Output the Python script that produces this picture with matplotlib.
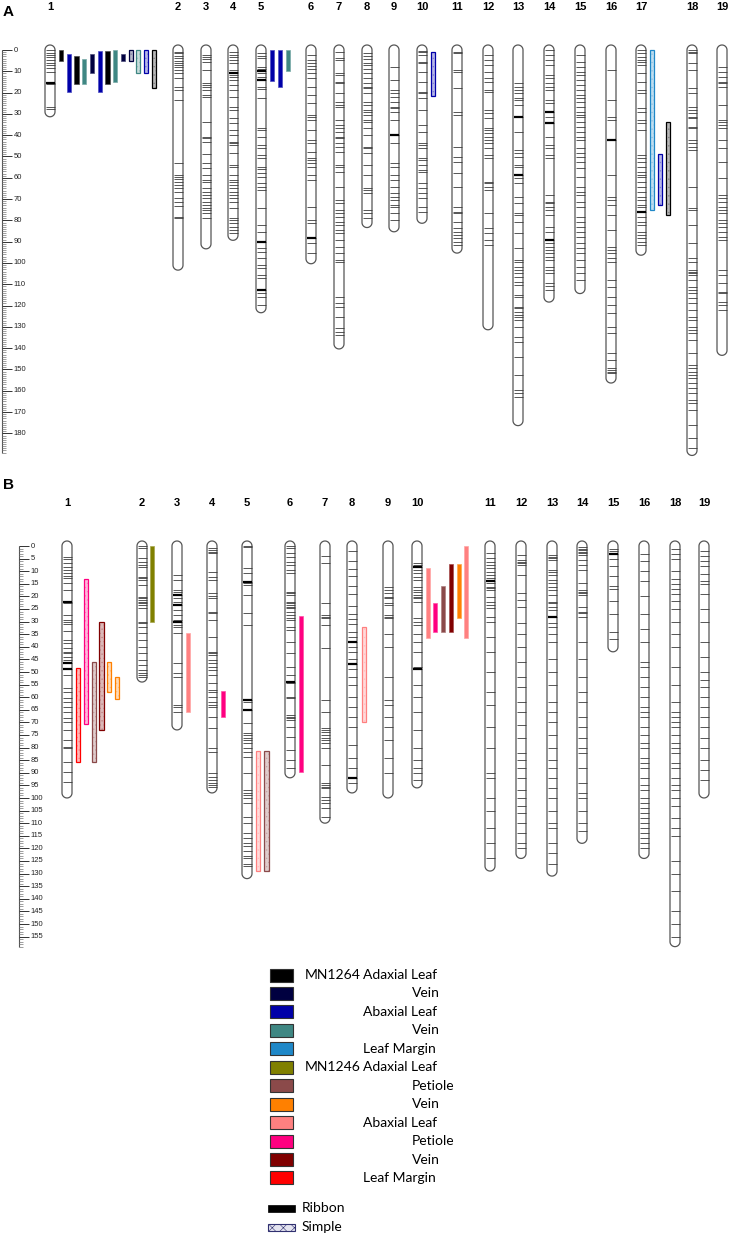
import numpy as np
import matplotlib
matplotlib.use("Agg")
import matplotlib.pyplot as plt
from matplotlib.patches import Polygon, Rectangle
from matplotlib.colors import to_rgb

plt.rcParams['hatch.linewidth'] = 0.4

# ---------------- traits (legend) ----------------
trait_group = ['MN1264', '', '', '', '', 'MN1246', '', '', '', '', '', '']
trait_tissue = ['Adaxial Leaf', '', 'Abaxial Leaf', '', 'Leaf Margin',
                'Adaxial Leaf', '', '', 'Abaxial Leaf', '', '', 'Leaf Margin']
trait_sub = ['', 'Vein', '', 'Vein', '', '', 'Petiole', 'Vein', '', 'Petiole', 'Vein', '']
trait_colors = ['#000000', '#000040', '#0000a8', '#3f8783', '#1f88c8',
                '#808000', '#8b4a4a', '#ff8000', '#ff8080', '#ff0080', '#800000', '#ff0000']

# ---------------- panel A: chromosomes ----------------
chroms_a = ['1', '2', '3', '4', '5', '6', '7', '8', '9', '10',
            '11', '12', '13', '14', '15', '16', '17', '18', '19']
lengths_a = [29, 101, 91, 87, 121, 98, 138, 81, 83, 79, 93, 129, 174, 116, 112, 154, 94, 188, 141]

a01 = [0, 1.3, 2.3, 3.4, 4.7, 6, 7, 8.6, 10.2, 15.3, 15.9, 26.9, 27.9]
a02 = [0.8, 1.6, 2.8, 3.9, 5, 6.3, 7, 7.8, 9.4, 10.9, 13.3, 17.5, 18.8, 23.5, 53.2, 58.7, 59.5, 60.7,
       61.8, 63.4, 65, 66.5, 69.6, 71.2, 73.2, 78.2, 79]
a03 = [2.3, 3.1, 4.4, 5.5, 9.4, 15.6, 16.4, 17.5, 18.8, 21.1, 21.9, 33.6, 40.7, 41.5, 43, 49, 53.2, 55.6,
       58.7, 61, 61.8, 65, 66.5, 68.1, 69.6, 71.2, 72.8, 74.3, 75.1, 76.7, 79]
a04 = [0.8, 2.3, 3.4, 4.7, 6.3, 9.4, 10.2, 10.9, 11.7, 12.5, 14.1, 16.4, 18.8, 21.9, 26.6, 28.2, 32.1,
       34.4, 37.6, 39.9, 43, 43.8, 44.6, 48.5, 54, 54.8, 58.7, 61, 61.8, 63.4, 65, 66.5, 68.1, 69.6,
       71.2, 74.3, 79, 79.8, 81.4, 82.9, 84.5, 86.1]
a05 = [1.6, 2.7, 3.9, 7.8, 9.1, 9.9, 10.9, 12.8, 14.1, 17.2, 18.5, 22.7, 36.8, 37.6, 40.7, 44.6, 46.2,
       49.3, 50.9, 54.8, 56, 57.9, 59.8, 62.6, 64.2, 65.7, 74.3, 82.2, 85.3, 90, 93.1, 94.7, 97.8,
       100.9, 102.5, 105.6, 107.2, 112.7, 114.2, 115.8, 119.7]
a06 = [2.3, 4.7, 6, 7.5, 9.1, 11, 13.3, 17.2, 21.1, 25, 30.5, 31.6, 32.9, 37.6, 42.3, 43.8, 47.7, 50.9,
       51.6, 53.2, 54.8, 58.7, 61, 73.5, 79.8, 81, 88.4, 90.8, 95.5]
a07 = [0.8, 3.9, 4.7, 11, 11.7, 14.9, 15.6, 20.3, 24.2, 25.8, 26.6, 32.9, 35.2, 36.8, 38.3, 40.7, 41.5,
       43.8, 45.4, 47.7, 54, 54.8, 57.1, 64.2, 70.4, 72, 75.1, 76.7, 78.2, 80.6, 82.2, 84.5, 86.1,
       89.2, 92.4, 95.5, 98.6, 99.4, 115.8, 118.9, 120.5, 125.2, 130.7, 132.2, 133.8]
a08 = [1.3, 2.8, 4.4, 5.9, 7, 9.1, 10.6, 13.3, 15.6, 17.2, 18, 20.3, 24.2, 25.8, 28.2, 28.9, 30.5,
       32.9, 33.6, 36.8, 39.9, 45.4, 46.2, 48.5, 54, 58.7, 64.9, 65.7, 67.3, 75.1, 76.7, 79]
a09 = [7.8, 14.1, 18.8, 20.3, 21.9, 24.2, 26.6, 27.4, 28.9, 32.9, 39.9, 43.8, 53.2, 54.8, 58.7, 61,
       64.2, 67.3, 68.9, 70.4, 72.8, 73.5, 76.7, 79.8]
a10 = [0.5, 0.8, 2.3, 5.5, 6.3, 10.2, 14.9, 19.6, 20.3, 22.7, 28.2, 35.2, 38.3, 43.8, 44.6, 46.2,
       50.9, 51.6, 54, 56.3, 57.1, 62.6, 64.9, 67.3, 69.6, 73.5, 75.9]
a11 = [0.8, 1.6, 9.4, 10.5, 18, 28.9, 30.5, 45.4, 50.1, 52.4, 57.9, 64.2, 73.5, 75.9, 76.7, 80.6,
       83.7, 85.3, 86.8, 88.4, 90, 91.5]
a12 = [2.3, 4.7, 7, 10.2, 13.3, 14.9, 18.8, 19.6, 28.2, 29.7, 32.1, 36.8, 37.6, 39.1, 40.7, 42.3,
       43.8, 46.2, 49.3, 50.9, 61.8, 62.6, 64.2, 65.7, 76.7, 83.7, 86.1, 89.2, 91.5]
a13 = [15.6, 17.2, 18.8, 20.3, 22.7, 23.5, 25.8, 31.3, 38.3, 46.9, 48.5, 50.1, 54, 54.8, 58.7, 60.3,
       62.6, 68.9, 72, 76.7, 77.5, 80.6, 86.1, 93.1, 98.6, 99.4, 101.7, 103.3, 104.8, 106.4, 108.8,
       110.3, 115, 115.8, 120.5, 121.3, 122.8, 124.4, 125.2, 126.8, 129.9, 134.6, 136.9, 144, 152.6,
       159.6, 161.2, 162.8]
a14 = [0, 2.3, 4.7, 7, 11.7, 13.3, 15.6, 17.2, 18.8, 23.5, 25, 28.9, 31.3, 34.4, 40.7, 44.6, 46.2,
       49.3, 50.9, 68.1, 71.2, 72, 73.5, 75.1, 77.5, 83, 85.3, 89.2, 90.8, 92.4, 93.9, 95.5, 97, 98.6,
       101.7, 103.3, 104.8, 109.5, 111, 112.7]
a15 = [2.3, 5.5, 7.8, 10.2, 11.7, 14.1, 16.4, 18.8, 21.1, 22.7, 24.2, 26.6, 28.9, 30.5, 31.3, 33.6,
       36, 38.3, 40.7, 42.3, 46.2, 48.5, 50.1, 52.4, 55.6, 59.5, 64.2, 66.5, 68.1, 71.2, 73.5, 78.2,
       80.6, 82.9, 85.3, 87.6, 90.8, 93.1, 95.5, 98.6, 101.7, 104.8, 108]
a16 = [9.4, 23.5, 31.3, 32.9, 42.3, 58.7, 68.9, 70.4, 72.8, 77.5, 84.5, 92.4, 93.9, 95.5, 97.8, 99.4,
       108, 111.1, 115.8, 119.7, 123.6, 129.9, 133, 142.4, 145.5, 149.4, 150.2, 151, 151.8]
a17 = [0, 1.6, 3.1, 4.7, 5.5, 7, 11, 14.9, 18.8, 20.3, 27.4, 28.9, 32.9, 34.4, 37.6, 49.3, 50.9, 52.4,
       54.8, 57.1, 58.7, 59.5, 61.8, 64.2, 66.5, 68.9, 70.4, 72.8, 73.5, 75.9, 78.2, 80.6, 82.2, 85.3,
       86.8, 88.4, 90, 91.5]
a18 = [0, 0.8, 1.6, 6.3, 9.4, 18, 20.3, 26.6, 28.2, 29.7, 31.3, 32.1, 36, 36.8, 42.3, 43.8, 45.4,
       46.9, 64.2, 74.3, 75.1, 82.2, 90.8, 97.8, 99.4, 103.3, 104.1, 104.8, 105.6, 108, 111.1, 112.7,
       114.2, 116.6, 118.9, 122.1, 125.2, 126.8, 129.9, 131.5, 133, 136.2, 142.4, 147.9, 149.4, 151,
       152.6, 154.2, 156.5, 158.9, 161.2, 164.3, 165.9, 169, 176.1, 182.3, 187]
a19 = [7.8, 10.2, 12.5, 14.9, 15.6, 17.2, 25.8, 32.9, 33.6, 35.2, 36.8, 42.3, 46.2, 52.4, 60.3, 68.1,
       69.6, 71.2, 73.5, 75.1, 76.7, 79.8, 81.4, 82.9, 85.3, 87.6, 89.2, 103.3, 105.6, 109.5, 113.4,
       114.2, 118.1, 119.7, 122.1]
markers_a = [a01, a02, a03, a04, a05, a06, a07, a08, a09, a10,
             a11, a12, a13, a14, a15, a16, a17, a18, a19]
bold_a = [[15.3], [], [], [10.9], [9.9, 14.1, 90, 112.7], [88.4], [], [], [39.9], [],
          [], [], [31.3, 58.7], [28.9, 34.4, 89.2], [], [42.3], [75.9], [], []]

# QTL intervals, panel A
qtl_a_chrom = ['1'] * 13 + ['5'] * 3 + ['10'] + ['17'] * 3
qtl_a_trait = [0, 2, 0, 3, 1, 2, 0, 3, 1, 1, 3, 2, 0, 2, 2, 3, 2, 4, 2, 0]
qtl_a_start = [0, 2, 3, 4, 2, 0.5, 0.5, 0, 2, 0, 0, 0, 0, 0, 0, 0, 1, 0, 49, 34]
qtl_a_end = [5, 19.5, 16, 16, 11, 19.5, 16, 15, 5, 5, 11, 11, 18, 14.5, 17.5, 10, 21.5, 75, 73, 77.5]
qtl_a_style = ['Ribbon'] * 9 + ['Simple'] * 4 + ['Ribbon'] * 3 + ['Simple'] * 4

# ---------------- panel B: chromosomes ----------------
chroms_b = ['1', '2', '3', '4', '5', '6', '7', '8', '9', '10',
            '11', '12', '13', '14', '15', '16', '18', '19']
lengths_b = [98, 52, 71, 96, 130, 90, 108, 96, 98, 94, 127, 122, 129, 116, 40, 122, 157, 98]

b01 = [4.5, 5, 6.9, 8.2, 9.5, 10.6, 11.9, 12.8, 14.8, 17.5, 22.1, 22.8, 27.4, 29.4, 30, 31, 33.9, 37.3,
       38.6, 40.6, 41.9, 42.6, 43.9, 45.2, 46.6, 49, 51.2, 56.5, 57.8, 60.5, 61.8, 63.8, 65.7, 68.4,
       69.7, 73, 77, 79.6, 80.3, 85.6, 89.6, 93.5]
b02 = [0, 0.9, 4.9, 6.2, 7.5, 8.2, 12.2, 12.8, 13.5, 15.5, 20.1, 20.8, 21.4, 22.1, 22.8, 23.4, 24.7,
       30, 30.7, 32, 34.7, 37.3, 40, 42.6, 45.2, 47.2, 49.2, 50.5, 51.2, 51.9]
b03 = [11.5, 13.5, 17.5, 18.1, 19.5, 20.8, 22.1, 23.4, 25.4, 27.4, 29.4, 30, 31.3, 32, 34.7, 46.6,
       50.5, 51.9, 63.1, 63.8, 65.7]
b04 = [0.9, 1.6, 2.2, 2.9, 10.2, 12.2, 13.5, 18.8, 19.8, 20.8, 26.1, 26.7, 29.4, 36, 41.9, 42.6, 43.3,
       45.2, 46.6, 47.9, 49.2, 51.2, 54.5, 57.1, 57.8, 59.8, 61.8, 63.1, 63.8, 67.7, 72.4, 80.3, 81.6,
       90.2, 91.5, 92.9, 94.2, 94.8, 95.5]
b05 = [0, 0.5, 8.9, 10.8, 14.1, 14.8, 15.5, 19.4, 26.7, 31.3, 61.1, 61.8, 65.1, 70.4, 74.3, 75, 76.3,
       77, 78.3, 80.3, 81.6, 83.6, 90.2, 96.8, 98.2, 98.8, 100.1, 102.1, 107.4, 110.1, 114, 116, 118,
       119, 121, 123, 124, 126, 127]
b06 = [0, 0.9, 2.9, 4.2, 6.2, 7.5, 9.5, 10.8, 18.1, 18.8, 19.4, 22.1, 22.8, 23.4, 24.1, 24.7, 26.1,
       27.4, 28.7, 29.4, 32, 33.3, 37.9, 42.6, 47.9, 51.2, 53.8, 54.5, 59.8, 60.5, 67, 67.7, 68.4, 69,
       71.7, 75.7, 81, 84.9, 88.2]
b07 = [3.9, 6.9, 22.8, 27.4, 28.1, 28.7, 31.4, 40.6, 61.1, 65.7, 72.4, 73, 73.7, 75, 76.3, 77, 78.3,
       80.3, 86.9, 94.2, 94.8, 95.5, 96.2, 99.5, 100.8, 102.1, 104.1, 107.4]
b08 = [2, 6, 9, 12, 16, 19, 24, 27, 29, 31, 34, 36, 38, 40, 42, 45, 47, 49, 52, 55, 60, 64, 68, 72,
       79, 84, 88, 92, 94]
b09 = [16.1, 17.5, 18.8, 20.1, 20.8, 22.8, 23.4, 27.4, 28, 28.7, 35, 40, 52, 61, 63, 68, 72, 77, 84, 90]
b10 = [6.9, 7.5, 8.2, 9.5, 10.8, 12.2, 13.5, 16.1, 17.5, 18.1, 19.5, 20.1, 20.8, 22.1, 28.7, 30, 31.3,
       35, 38, 42, 48, 49, 55, 60, 66, 73, 80, 85, 88, 90, 93]
b11 = [2.9, 4.9, 6.2, 7.5, 8.8, 10.2, 11.5, 12.8, 13.8, 14.8, 16.1, 16.8, 17.5, 20.1, 22.1, 23.4, 24.7,
       28, 30, 36, 42, 50, 58, 63, 72, 80, 90, 92, 100, 105, 112, 118, 124]
b12 = [3.6, 5.6, 6.2, 6.9, 7.5, 11.5, 18.8, 21.4, 24.1, 30.7, 35, 40, 46, 52, 56, 62, 66, 71, 76, 82,
       85, 88, 92, 97, 100, 103, 106, 110, 114, 118, 120]
b13 = [3.6, 4.2, 4.9, 5.6, 9.5, 10.2, 11.5, 13.5, 14.8, 16.1, 17.5, 19.5, 22.1, 22.8, 24.1, 25.4, 28,
       30.7, 32, 35, 38, 45, 50, 55, 62, 66, 70, 75, 80, 85, 88, 92, 96, 100, 105, 110, 112, 118,
       122, 126]
b14 = [0.4, 1, 1.6, 2.2, 2.9, 3.6, 5.6, 7.5, 9.5, 14.8, 17.5, 18.1, 18.8, 19.5, 24.1, 26.1, 26.7, 28,
       38, 45, 52, 58, 62, 68, 72, 76, 80, 82, 88, 94, 98, 100, 105, 110, 113]
b15 = [1, 2, 3, 5, 8, 12, 16, 17, 22, 27, 34, 37]
b16 = [3, 6, 10, 14, 20, 27, 33, 38, 46, 48, 52, 56, 60, 64, 66, 68, 72, 75, 78, 80, 84, 86, 88, 92,
       95, 97, 100, 102, 104, 106, 108, 110, 112, 114, 116, 118, 120]
b18 = [1, 3, 5, 10, 13, 15, 17, 19, 22, 25, 30, 35, 40, 48, 55, 62, 66, 68, 70, 72, 75, 78, 80, 82,
       86, 88, 92, 95, 97, 100, 103, 108, 112, 115, 125, 130, 137, 145, 150, 155]
b19 = [2, 4, 6, 8, 11, 14, 15, 19, 25, 30, 38, 44, 50, 53, 56, 60, 64, 68, 72, 76, 80, 85, 89, 93]
markers_b = [b01, b02, b03, b04, b05, b06, b07, b08, b09, b10,
             b11, b12, b13, b14, b15, b16, b18, b19]
bold_b = [[22.1, 46.6, 49], [], [19.5, 23.4, 30], [], [14.1, 61.1, 65.1], [53.8], [], [38, 47, 92],
          [], [8.2, 49], [13.8], [], [28], [], [3], [], [], []]

# QTL intervals, panel B
qtl_b_chrom = ['1'] * 6 + ['2', '3', '4', '5', '5', '6', '8'] + ['10'] * 6
qtl_b_trait = [11, 9, 6, 10, 7, 7, 5, 8, 9, 8, 6, 9, 8, 8, 9, 6, 10, 7, 8]
qtl_b_start = [48.5, 13.2, 46, 30.2, 46, 52.1, 0, 34.4, 57.5, 81.3, 81.3, 27.8, 32, 8.7, 22.6, 16, 7, 7, 0]
qtl_b_end = [85.6, 70.6, 85.6, 73, 57.8, 60.6, 30, 65.7, 68, 129, 129, 89.5, 70, 36.5, 34, 34, 34, 28.6, 36.5]
qtl_b_style = ['Simple'] * 6 + ['Ribbon'] * 3 + ['Simple'] * 2 + ['Ribbon', 'Simple'] + ['Ribbon'] * 6

# ---------------- layout (pixel-like x units) ----------------
W, H = 732, 1244
xpos_a = [50, 178, 206, 233, 261, 311, 339, 367, 394, 422, 457, 488, 518, 549, 580, 611, 641, 692, 722]
xpos_b = [67, 142, 177, 212, 247, 290, 325, 352, 388, 417, 490, 521, 552, 582, 613, 644, 675, 704]
qx_a = [61, 69, 76.5, 84, 92, 100, 107.5, 115, 123, 131, 138, 146, 154, 272, 280, 288, 433, 652, 660, 668]
qx_b = [78, 86, 94, 101.5, 109, 117, 152, 188, 223, 258, 266.5, 301, 364, 428, 435, 443, 451, 459, 466]


def lighten(c, f):
    r, g, b = to_rgb(c)
    return (r + (1 - r) * f, g + (1 - g) * f, b + (1 - b) * f)


def draw_chrom(ax, cx, length, marks, bold, s):
    r = 5.0
    t1 = np.linspace(np.pi, 0, 24)
    t2 = np.linspace(0, -np.pi, 24)
    xs = np.concatenate([cx + r * np.cos(t1), cx + r * np.cos(t2)])
    ys = np.concatenate([-r / s * np.sin(t1), length - r / s * np.sin(t2)])
    ax.add_patch(Polygon(np.column_stack([xs, ys]), closed=True, fc='white',
                         ec='#555555', lw=0.9, zorder=2))
    ax.hlines(marks, cx - r + 0.5, cx + r - 0.5, color='#3a3a3a', lw=0.6, zorder=3)
    if bold:
        ax.hlines(bold, cx - r + 0.5, cx + r - 0.5, color='black', lw=1.6, zorder=3)


def draw_qtl(ax, x, start, end, trait, style):
    col = trait_colors[trait]
    w = 4.6
    if style == 'Ribbon':
        ax.add_patch(Rectangle((x - w / 2, start), w, end - start, fc=col,
                               ec=lighten(col, 0.3), lw=0.5, zorder=4))
    else:
        # light hatched fill, then a coloured outline on top
        ax.add_patch(Rectangle((x - w / 2, start), w, end - start, fc=lighten(col, 0.72),
                               ec=lighten(col, 0.5), lw=0, hatch='....', zorder=4))
        ax.add_patch(Rectangle((x - w / 2, start), w, end - start, fc='none',
                               ec=col, lw=0.9, zorder=5))


def draw_scale(ax, x0, top, major):
    ax.vlines(x0, 0, top, color='#555555', lw=0.8)
    ax.hlines(np.arange(0, top + 1), x0, x0 + 4, color='#777777', lw=0.5)
    ticks = np.arange(0, top - 3, major)
    ax.hlines(ticks, x0, x0 + 10, color='#333333', lw=0.7)
    for t in ticks:
        ax.text(x0 + 12, t, str(int(t)), fontsize=5.5, va='center', ha='left',
                family='Liberation Sans', color='#222222')


fig = plt.figure(figsize=(W / 100, H / 100), dpi=100)

# panel A: 0 cM at y=50 px, 2.13 px per cM
sa, za = 2.13, 50
axA = fig.add_axes([0, 1 - 462 / H, 1, 462 / H])
axA.set_xlim(0, W)
axA.set_ylim((462 - za) / sa, (0 - za) / sa)
axA.axis('off')
draw_scale(axA, 1.5, 189, 10)
for i, c in enumerate(chroms_a):
    draw_chrom(axA, xpos_a[i], lengths_a[i], markers_a[i], bold_a[i], sa)
    axA.text(xpos_a[i], (7 - za) / sa, c, ha='center', va='center', fontsize=8,
             fontweight='bold', family='Liberation Sans')
for i in range(len(qtl_a_chrom)):
    draw_qtl(axA, qx_a[i], qtl_a_start[i], qtl_a_end[i], qtl_a_trait[i], qtl_a_style[i])

# panel B: 0 cM at y=546 px, 2.52 px per cM
sb, zb = 2.52, 546
axB = fig.add_axes([0, 1 - 958 / H, 1, 496 / H])
axB.set_xlim(0, W)
axB.set_ylim((958 - zb) / sb, (462 - zb) / sb)
axB.axis('off')
draw_scale(axB, 18.5, 159, 5)
for i, c in enumerate(chroms_b):
    draw_chrom(axB, xpos_b[i], lengths_b[i], markers_b[i], bold_b[i], sb)
    axB.text(xpos_b[i], (503 - zb) / sb, c, ha='center', va='center', fontsize=8,
             fontweight='bold', family='Liberation Sans')
for i in range(len(qtl_b_chrom)):
    draw_qtl(axB, qx_b[i], qtl_b_start[i], qtl_b_end[i], qtl_b_trait[i], qtl_b_style[i])

fig.text(3 / W, 1 - 12 / H, 'A', fontsize=11, fontweight='bold', family='Liberation Sans', va='center')
fig.text(3 / W, 1 - 485 / H, 'B', fontsize=11, fontweight='bold', family='Liberation Sans', va='center')

# legend in pixel coordinates
axL = fig.add_axes([0, 0, 1, 1])
axL.set_xlim(0, W)
axL.set_ylim(H, 0)
axL.axis('off')
row_y0, row_dy = 975, 18.45
for i, col in enumerate(trait_colors):
    y = row_y0 + i * row_dy
    axL.add_patch(Rectangle((270, y - 6.5), 23, 13, fc=col, ec='#333333', lw=0.8))
    if trait_group[i]:
        axL.text(305, y, trait_group[i], fontsize=10, va='center', family='Lato')
    if trait_tissue[i]:
        axL.text(363, y, trait_tissue[i], fontsize=10, va='center', family='Lato')
    if trait_sub[i]:
        axL.text(412, y, trait_sub[i], fontsize=10, va='center', family='Lato')

axL.add_patch(Rectangle((268, 1205), 27, 7, fc='black', ec='black', lw=0.5))
axL.text(302, 1208, 'Ribbon', fontsize=10, va='center', family='Lato')
axL.add_patch(Rectangle((268, 1224), 27, 6.5, fc='#e4e4f0', ec='#303070', lw=0.8, hatch='xxx'))
axL.text(302, 1227, 'Simple', fontsize=10, va='center', family='Lato')

fig.savefig('out.png', dpi=100)
